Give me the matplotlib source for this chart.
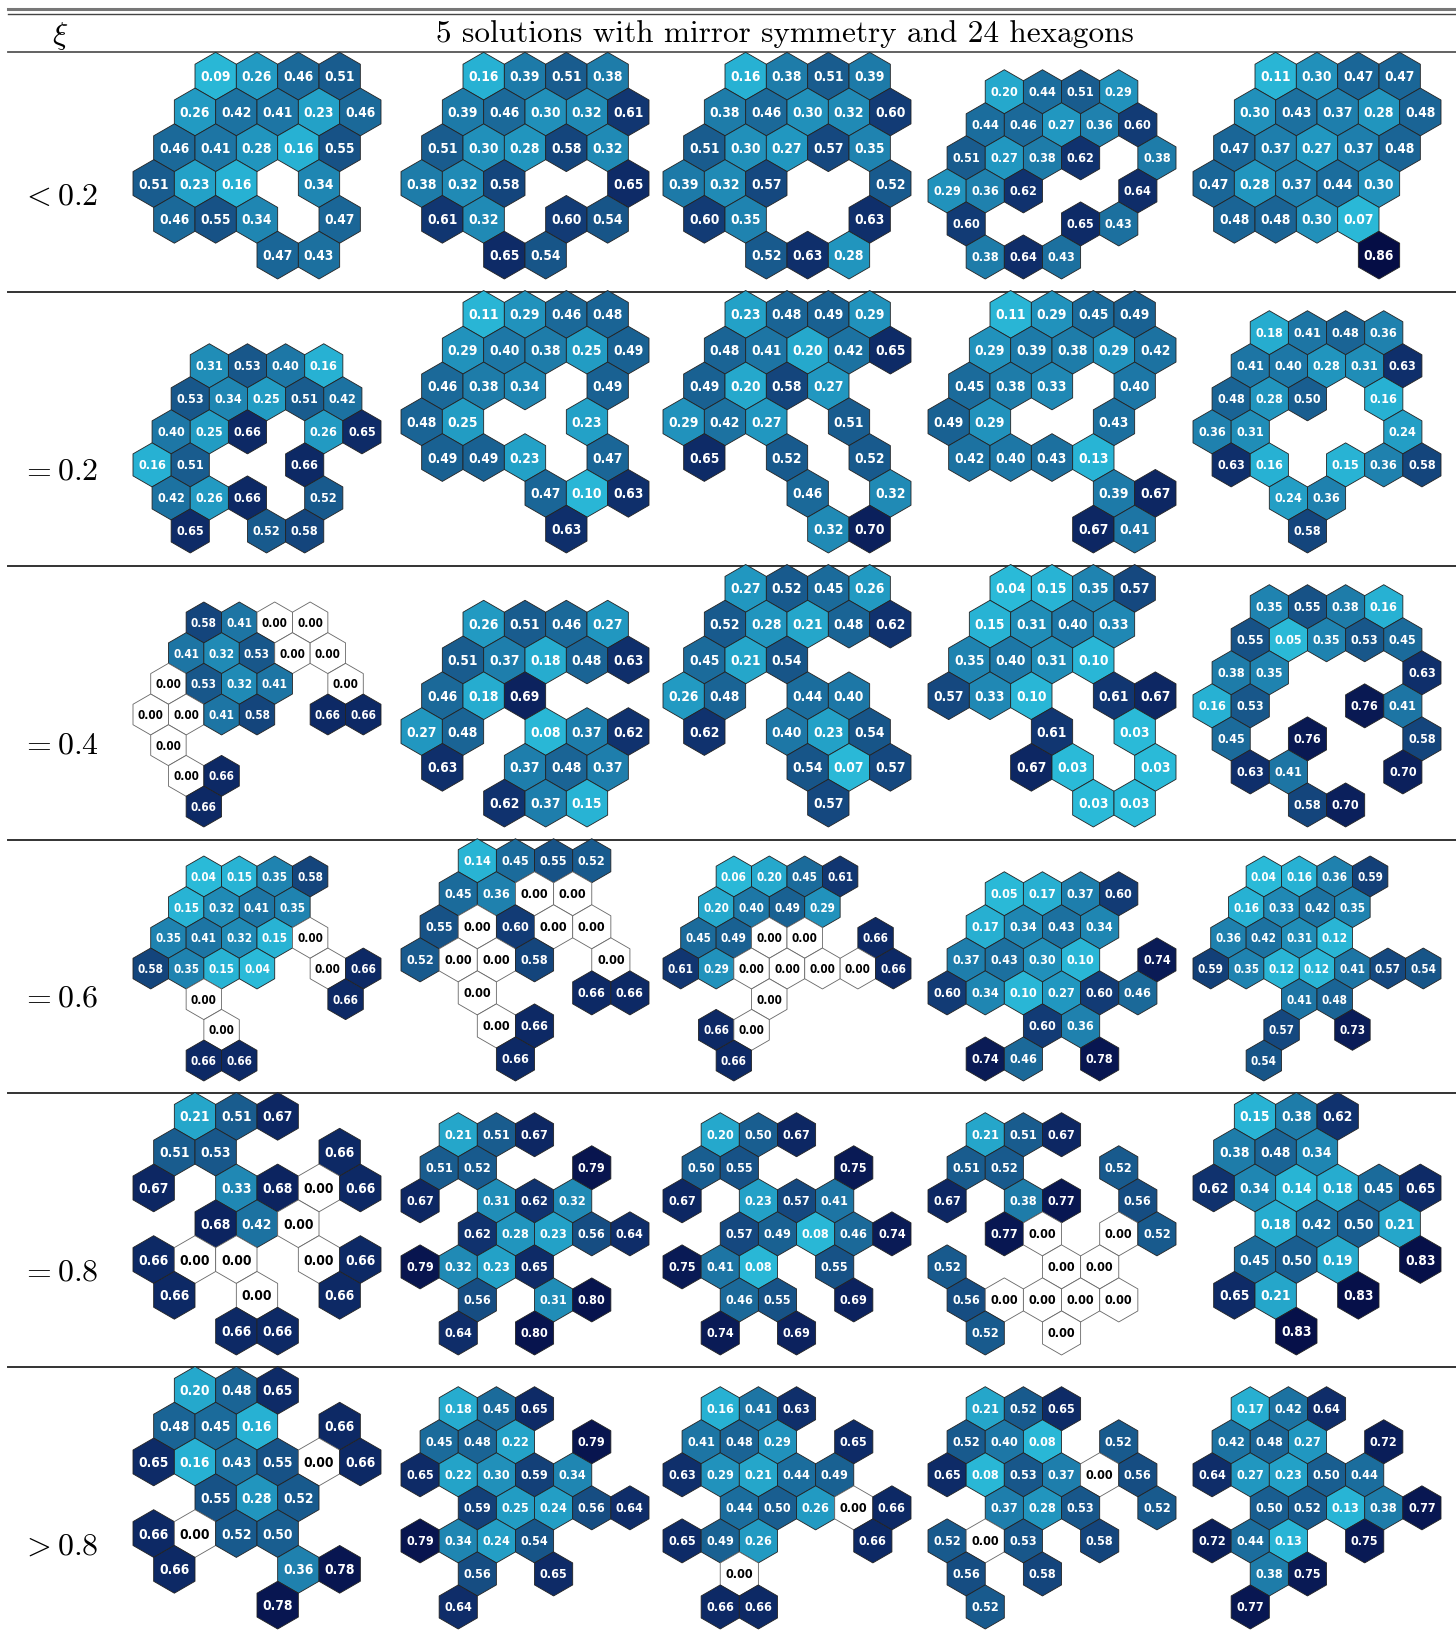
import numpy as np
import matplotlib.pyplot as plt
from matplotlib.patches import RegularPolygon
from matplotlib.colors import LinearSegmentedColormap
from matplotlib.font_manager import FontProperties

plt.rcParams['mathtext.fontset'] = 'cm'

header_xi = r'$\xi$'
header_title = '5 solutions with mirror symmetry and 24 hexagons'
xi_labels = [r'$<0.2$', r'$=0.2$', r'$=0.4$', r'$=0.6$', r'$=0.8$', r'$>0.8$']

_ = None
# each solution: hexagon rows from the top, (first site in half-hex steps, values); _ = no hexagon
xi_lt_02 = [
    [(3, [0.09, 0.26, 0.46, 0.51]), (2, [0.26, 0.42, 0.41, 0.23, 0.46]), (1, [0.46, 0.41, 0.28, 0.16, 0.55]),
     (0, [0.51, 0.23, 0.16, _, 0.34]), (1, [0.46, 0.55, 0.34, _, 0.47]), (6, [0.47, 0.43])],
    [(3, [0.16, 0.39, 0.51, 0.38]), (2, [0.39, 0.46, 0.30, 0.32, 0.61]), (1, [0.51, 0.30, 0.28, 0.58, 0.32]),
     (0, [0.38, 0.32, 0.58, _, _, 0.65]), (1, [0.61, 0.32, _, 0.60, 0.54]), (4, [0.65, 0.54])],
    [(3, [0.16, 0.38, 0.51, 0.39]), (2, [0.38, 0.46, 0.30, 0.32, 0.60]), (1, [0.51, 0.30, 0.27, 0.57, 0.35]),
     (0, [0.39, 0.32, 0.57, _, _, 0.52]), (1, [0.60, 0.35, _, _, 0.63]), (4, [0.52, 0.63, 0.28])],
    [(3, [0.20, 0.44, 0.51, 0.29]), (2, [0.44, 0.46, 0.27, 0.36, 0.60]), (1, [0.51, 0.27, 0.38, 0.62, _, 0.38]),
     (0, [0.29, 0.36, 0.62, _, _, 0.64]), (1, [0.60, _, _, 0.65, 0.43]), (2, [0.38, 0.64, 0.43])],
    [(3, [0.11, 0.30, 0.47, 0.47]), (2, [0.30, 0.43, 0.37, 0.28, 0.48]), (1, [0.47, 0.37, 0.27, 0.37, 0.48]),
     (0, [0.47, 0.28, 0.37, 0.44, 0.30]), (1, [0.48, 0.48, 0.30, 0.07]), (8, [0.86])],
]
xi_eq_02 = [
    [(3, [0.31, 0.53, 0.40, 0.16]), (2, [0.53, 0.34, 0.25, 0.51, 0.42]), (1, [0.40, 0.25, 0.66, _, 0.26, 0.65]),
     (0, [0.16, 0.51, _, _, 0.66]), (1, [0.42, 0.26, 0.66, _, 0.52]), (2, [0.65, _, 0.52, 0.58])],
    [(3, [0.11, 0.29, 0.46, 0.48]), (2, [0.29, 0.40, 0.38, 0.25, 0.49]), (1, [0.46, 0.38, 0.34, _, 0.49]),
     (0, [0.48, 0.25, _, _, 0.23]), (1, [0.49, 0.49, 0.23, _, 0.47]), (6, [0.47, 0.10, 0.63]), (7, [0.63])],
    [(3, [0.23, 0.48, 0.49, 0.29]), (2, [0.48, 0.41, 0.20, 0.42, 0.65]), (1, [0.49, 0.20, 0.58, 0.27]),
     (0, [0.29, 0.42, 0.27, _, 0.51]), (1, [0.65, _, 0.52, _, 0.52]), (6, [0.46, _, 0.32]), (7, [0.32, 0.70])],
    [(3, [0.11, 0.29, 0.45, 0.49]), (2, [0.29, 0.39, 0.38, 0.29, 0.42]), (1, [0.45, 0.38, 0.33, _, 0.40]),
     (0, [0.49, 0.29, _, _, 0.43]), (1, [0.42, 0.40, 0.43, 0.13]), (8, [0.39, 0.67]), (7, [0.67, 0.41])],
    [(3, [0.18, 0.41, 0.48, 0.36]), (2, [0.41, 0.40, 0.28, 0.31, 0.63]), (1, [0.48, 0.28, 0.50, _, 0.16]),
     (0, [0.36, 0.31, _, _, _, 0.24]), (1, [0.63, 0.16, _, 0.15, 0.36, 0.58]), (4, [0.24, 0.36]), (5, [0.58])],
]
xi_eq_04 = [
    [(3, [0.58, 0.41, 0.00, 0.00]), (2, [0.41, 0.32, 0.53, 0.00, 0.00]), (1, [0.00, 0.53, 0.32, 0.41, _, 0.00]),
     (0, [0.00, 0.00, 0.41, 0.58, _, 0.66, 0.66]), (1, [0.00]), (2, [0.00, 0.66]), (3, [0.66])],
    [(3, [0.26, 0.51, 0.46, 0.27]), (2, [0.51, 0.37, 0.18, 0.48, 0.63]), (1, [0.46, 0.18, 0.69]),
     (0, [0.27, 0.48, _, 0.08, 0.37, 0.62]), (1, [0.63, _, 0.37, 0.48, 0.37]), (4, [0.62, 0.37, 0.15])],
    [(3, [0.27, 0.52, 0.45, 0.26]), (2, [0.52, 0.28, 0.21, 0.48, 0.62]), (1, [0.45, 0.21, 0.54]),
     (0, [0.26, 0.48, _, 0.44, 0.40]), (1, [0.62, _, 0.40, 0.23, 0.54]), (6, [0.54, 0.07, 0.57]), (7, [0.57])],
    [(3, [0.04, 0.15, 0.35, 0.57]), (2, [0.15, 0.31, 0.40, 0.33]), (1, [0.35, 0.40, 0.31, 0.10]),
     (0, [0.57, 0.33, 0.10, _, 0.61, 0.67]), (5, [0.61, _, 0.03]), (4, [0.67, 0.03, _, 0.03]), (7, [0.03, 0.03])],
    [(3, [0.35, 0.55, 0.38, 0.16]), (2, [0.55, 0.05, 0.35, 0.53, 0.45]), (1, [0.38, 0.35, _, _, _, 0.63]),
     (0, [0.16, 0.53, _, _, 0.76, 0.41]), (1, [0.45, _, 0.76, _, _, 0.58]), (2, [0.63, 0.41, _, _, 0.70]),
     (5, [0.58, 0.70])],
]
xi_eq_06 = [
    [(3, [0.04, 0.15, 0.35, 0.58]), (2, [0.15, 0.32, 0.41, 0.35]), (1, [0.35, 0.41, 0.32, 0.15, 0.00]),
     (0, [0.58, 0.35, 0.15, 0.04, _, 0.00, 0.66]), (3, [0.00, _, _, _, 0.66]), (4, [0.00]), (3, [0.66, 0.66])],
    [(3, [0.14, 0.45, 0.55, 0.52]), (2, [0.45, 0.36, 0.00, 0.00]), (1, [0.55, 0.00, 0.60, 0.00, 0.00]),
     (0, [0.52, 0.00, 0.00, 0.58, _, 0.00]), (3, [0.00, _, _, 0.66, 0.66]), (4, [0.00, 0.66]), (5, [0.66])],
    [(3, [0.06, 0.20, 0.45, 0.61]), (2, [0.20, 0.40, 0.49, 0.29]), (1, [0.45, 0.49, 0.00, 0.00, _, 0.66]),
     (0, [0.61, 0.29, 0.00, 0.00, 0.00, 0.00, 0.66]), (5, [0.00]), (2, [0.66, 0.00]), (3, [0.66])],
    [(3, [0.05, 0.17, 0.37, 0.60]), (2, [0.17, 0.34, 0.43, 0.34]), (1, [0.37, 0.43, 0.30, 0.10, _, 0.74]),
     (0, [0.60, 0.34, 0.10, 0.27, 0.60, 0.46]), (5, [0.60, 0.36]), (2, [0.74, 0.46, _, 0.78])],
    [(3, [0.04, 0.16, 0.36, 0.59]), (2, [0.16, 0.33, 0.42, 0.35]), (1, [0.36, 0.42, 0.31, 0.12]),
     (0, [0.59, 0.35, 0.12, 0.12, 0.41, 0.57, 0.54]), (5, [0.41, 0.48]), (4, [0.57, _, 0.73]), (3, [0.54])],
]
xi_eq_08 = [
    [(2, [0.21, 0.51, 0.67]), (1, [0.51, 0.53, _, _, 0.66]), (0, [0.67, _, 0.33, 0.68, 0.00, 0.66]),
     (3, [0.68, 0.42, 0.00]), (0, [0.66, 0.00, 0.00, _, 0.00, 0.66]), (1, [0.66, _, 0.00, _, 0.66]),
     (4, [0.66, 0.66])],
    [(2, [0.21, 0.51, 0.67]), (1, [0.51, 0.52, _, _, 0.79]), (0, [0.67, _, 0.31, 0.62, 0.32]),
     (3, [0.62, 0.28, 0.23, 0.56, 0.64]), (0, [0.79, 0.32, 0.23, 0.65]), (3, [0.56, _, 0.31, 0.80]),
     (2, [0.64, _, 0.80])],
    [(2, [0.20, 0.50, 0.67]), (1, [0.50, 0.55, _, _, 0.75]), (0, [0.67, _, 0.23, 0.57, 0.41]),
     (3, [0.57, 0.49, 0.08, 0.46, 0.74]), (0, [0.75, 0.41, 0.08, _, 0.55]), (3, [0.46, 0.55, _, 0.69]),
     (2, [0.74, _, 0.69])],
    [(2, [0.21, 0.51, 0.67]), (1, [0.51, 0.52, _, _, 0.52]), (0, [0.67, _, 0.38, 0.77, _, 0.56]),
     (3, [0.77, 0.00, _, 0.00, 0.52]), (0, [0.52, _, _, 0.00, 0.00]), (1, [0.56, 0.00, 0.00, 0.00, 0.00]),
     (2, [0.52, _, 0.00])],
    [(2, [0.15, 0.38, 0.62]), (1, [0.38, 0.48, 0.34]), (0, [0.62, 0.34, 0.14, 0.18, 0.45, 0.65]),
     (3, [0.18, 0.42, 0.50, 0.21]), (2, [0.45, 0.50, 0.19, _, 0.83]), (1, [0.65, 0.21, _, 0.83]), (4, [0.83])],
]
xi_gt_08 = [
    [(2, [0.20, 0.48, 0.65]), (1, [0.48, 0.45, 0.16, _, 0.66]), (0, [0.65, 0.16, 0.43, 0.55, 0.00, 0.66]),
     (3, [0.55, 0.28, 0.52]), (0, [0.66, 0.00, 0.52, 0.50]), (1, [0.66, _, _, 0.36, 0.78]), (6, [0.78])],
    [(2, [0.18, 0.45, 0.65]), (1, [0.45, 0.48, 0.22, _, 0.79]), (0, [0.65, 0.22, 0.30, 0.59, 0.34]),
     (3, [0.59, 0.25, 0.24, 0.56, 0.64]), (0, [0.79, 0.34, 0.24, 0.54]), (3, [0.56, _, 0.65]), (2, [0.64])],
    [(2, [0.16, 0.41, 0.63]), (1, [0.41, 0.48, 0.29, _, 0.65]), (0, [0.63, 0.29, 0.21, 0.44, 0.49]),
     (3, [0.44, 0.50, 0.26, 0.00, 0.66]), (0, [0.65, 0.49, 0.26, _, _, 0.66]), (3, [0.00]), (2, [0.66, 0.66])],
    [(2, [0.21, 0.52, 0.65]), (1, [0.52, 0.40, 0.08, _, 0.52]), (0, [0.65, 0.08, 0.53, 0.37, 0.00, 0.56]),
     (3, [0.37, 0.28, 0.53, _, 0.52]), (0, [0.52, 0.00, 0.53, _, 0.58]), (1, [0.56, _, 0.58]), (2, [0.52])],
    [(2, [0.17, 0.42, 0.64]), (1, [0.42, 0.48, 0.27, _, 0.72]), (0, [0.64, 0.27, 0.23, 0.50, 0.44]),
     (3, [0.50, 0.52, 0.13, 0.38, 0.77]), (0, [0.72, 0.44, 0.13, _, 0.75]), (3, [0.38, 0.75]), (2, [0.77])],
]
table_rows = [xi_lt_02, xi_eq_02, xi_eq_04, xi_eq_06, xi_eq_08, xi_gt_08]

# colour scale: light cyan for small values, navy for large, zero drawn white
VMAX = 0.9
cmap = LinearSegmentedColormap.from_list('hexmap', [
    (0.00 / VMAX, '#2bbcd9'), (0.15 / VMAX, '#28b3d4'), (0.25 / VMAX, '#229cc3'),
    (0.35 / VMAX, '#1f83b0'), (0.45 / VMAX, '#1b6b9b'), (0.55 / VMAX, '#175286'),
    (0.62 / VMAX, '#10326e'), (0.70 / VMAX, '#0b205c'), (1.0, '#040840')])

# page layout in pixels
W, H = 1456, 1640
CELL_W = 248
col_centers = [257, 525, 787, 1052, 1317]
row_bottoms = [280, 554, 828, 1082, 1356, 1630]
rule_ys = [293, 567, 841, 1094, 1368]
label_ys = [197, 471, 745, 998, 1272, 1546]

fig = plt.figure(figsize=(W / 100, H / 100), dpi=100)
bg = fig.add_axes([0, 0, 1, 1])
bg.set_xlim(0, W)
bg.set_ylim(H, 0)
bg.axis('off')

bg.plot([8, W], [10, 10], color='#777777', lw=2.2)
bg.plot([8, W], [15, 15], color='#444444', lw=1.0)
bg.plot([8, W], [53, 53], color='#555555', lw=1.3)
for y in rule_ys:
    bg.plot([8, W], [y, y], color='#333333', lw=1.4)

bg.text(60, 36, header_xi, fontsize=23, ha='center', va='center')
bg.text(785, 34, header_title, fontsize=22.5, family='cmr10', ha='center', va='center')
for y, lab in zip(label_ys, xi_labels):
    bg.text(60, y, lab, fontsize=23, ha='center', va='center')


def draw_solution(rows, cx, bottom):
    xs, ys, vs = [], [], []
    for r, (start, vals) in enumerate(rows):
        for i, v in enumerate(vals):
            if v is None:
                continue
            xs.append((start + 2 * i) * np.sqrt(3) / 2)
            ys.append(-1.5 * r)
            vs.append(v)
    xs, ys = np.array(xs), np.array(ys)
    x0, x1 = xs.min() - np.sqrt(3) / 2, xs.max() + np.sqrt(3) / 2
    y0, y1 = ys.min() - 1, ys.max() + 1
    scale = CELL_W / (x1 - x0)
    h = (y1 - y0) * scale
    ax = fig.add_axes([(cx - CELL_W / 2) / W, (H - bottom) / H, CELL_W / W, h / H])
    ax.set_xlim(x0, x1)
    ax.set_ylim(y0, y1)
    ax.axis('off')
    fp = FontProperties(family='DejaVu Sans', weight='bold', stretch='condensed', size=0.41 * scale)
    for x, y, v in zip(xs, ys, vs):
        face = 'white' if v == 0 else cmap(v / VMAX)
        edge = '#666666' if v == 0 else '#222222'
        ax.add_patch(RegularPolygon((x, y), 6, radius=1, orientation=0, facecolor=face,
                                    edgecolor=edge, lw=0.6, clip_on=False))
        ax.text(x, y, f'{v:.2f}', ha='center', va='center', fontproperties=fp,
                color='black' if v == 0 else 'white')


for sols, bottom in zip(table_rows, row_bottoms):
    for sol, cx in zip(sols, col_centers):
        draw_solution(sol, cx, bottom)

fig.savefig('out.png', dpi=100)
